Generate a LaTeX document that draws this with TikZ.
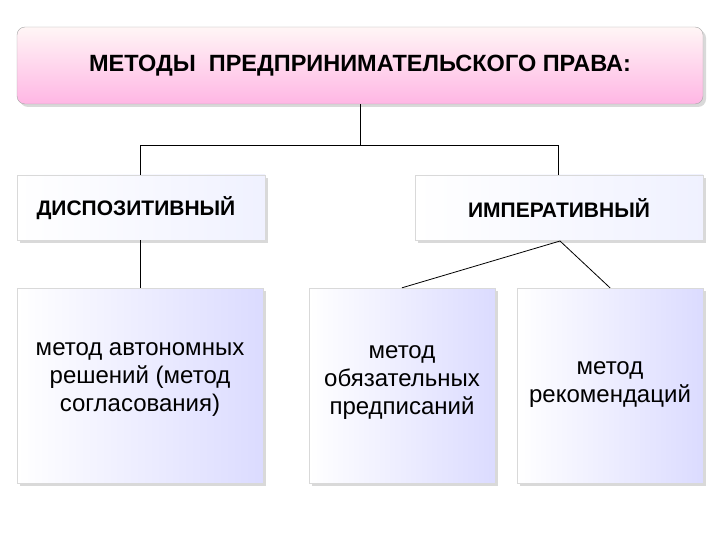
\documentclass[tikz,border=0pt]{standalone}
\usepackage{fontspec}
\setmainfont{Liberation Sans}
\usetikzlibrary{shadows}
\begin{document}
\begin{tikzpicture}[x=1pt,y=-1pt,
  box/.style={draw=gray!30, drop shadow={shadow xshift=3pt,shadow yshift=-3pt,opacity=0.3}, inner sep=0pt},
  conn/.style={draw=black, line width=0.8pt},
  lowtxt/.style={align=center, font=\fontsize{24}{28}\selectfont},
  midtxt/.style={font=\bfseries\fontsize{21}{24}\selectfont}]
\useasboundingbox (0,0) rectangle (720,540);
\node[box, rounded corners=8pt, draw=gray!70, top color=pink!15, bottom color=magenta!30!pink!60, minimum width=686pt, minimum height=77pt] (top) at (360,65.5) {};
\node[font=\bfseries\fontsize{23.5}{27}\selectfont] at (360,66) {МЕТОДЫ\ \ ПРЕДПРИНИМАТЕЛЬСКОГО ПРАВА:};
\node[box, left color=white, right color=cyan!10!blue!6, minimum width=248pt, minimum height=65pt] (dis) at (141,207.5) {};
\node[midtxt, anchor=west] at (33,208) {ДИСПОЗИТИВНЫЙ};
\node[box, left color=white, right color=cyan!10!blue!6, minimum width=288pt, minimum height=65pt] (imp) at (559,207.5) {};
\node[midtxt] at (559,208) {ИМПЕРАТИВНЫЙ};
\tikzset{low/.style={box, left color=white, right color=blue!14, minimum height=195pt}}
\node[low, minimum width=246pt] (a) at (140,385.5) {};
\node[lowtxt] at (140,380) {метод автономных\\ решений (метод\\ согласования)};
\node[low, minimum width=186pt] (b) at (402,385.5) {};
\node[lowtxt] at (402,383) {метод\\ обязательных\\ предписаний};
\node[low, minimum width=186pt] (c) at (610,385.5) {};
\node[lowtxt] at (610,385) {метод\\ рекомендаций};
\coordinate (ap) at (560,241);
\draw[conn] (top.south) -- (360,145) -| (dis.north -| 140,0);
\draw[conn] (360,145) -| (558,175);
\draw[conn] (140,240) -- (a.north -| 140,0);
\draw[conn] (ap) -- (b.north);
\draw[conn] (ap) -- (c.north);
\end{tikzpicture}
\end{document}
